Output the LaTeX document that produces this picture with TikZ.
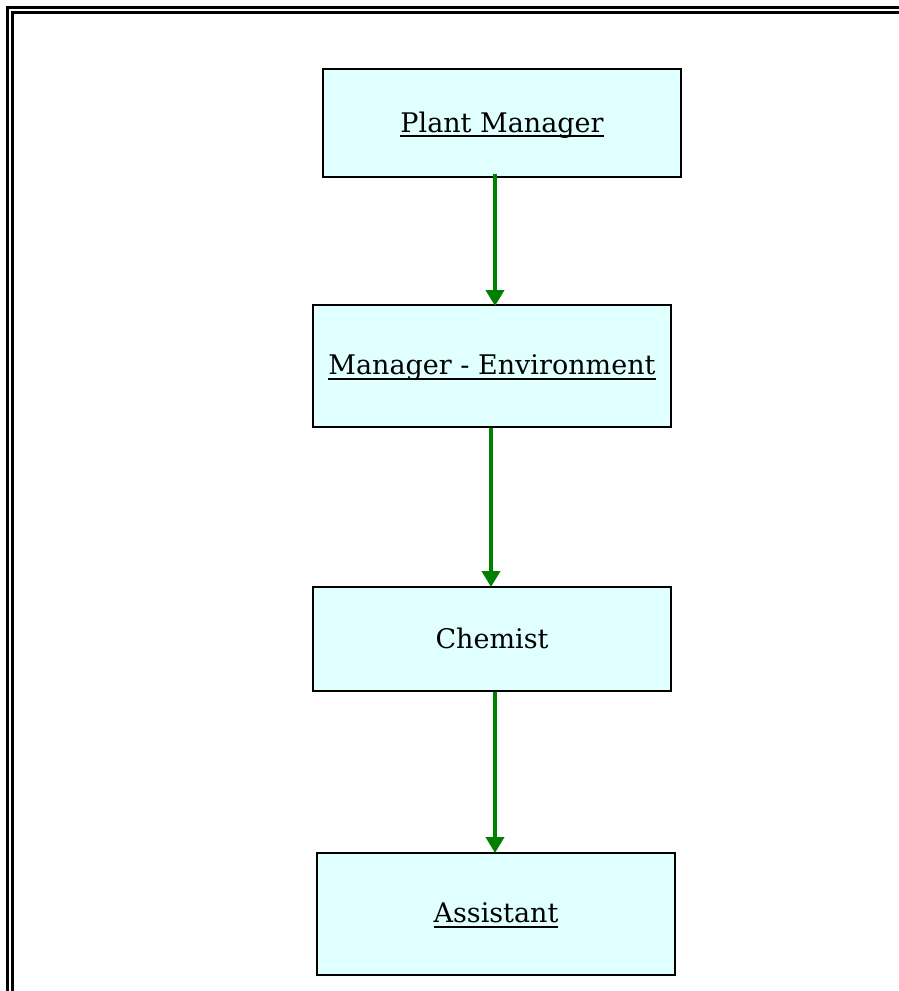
\documentclass[tikz,border=0pt]{standalone}
\usepackage[svgnames]{xcolor}
\usepackage{fontspec}
\setmainfont{DejaVu Serif}
\usepackage{tikz}
\usetikzlibrary{arrows.meta,positioning}

\newcommand{\ulbox}[1]{\setbox0\hbox{#1}\rlap{\rule[-5pt]{\wd0}{1.8pt}}\box0}

\begin{document}
\begin{tikzpicture}[
  x=1pt,y=-1pt,
  on grid,
  >={Triangle[width=18pt,length=16pt]},
  node distance=250pt,
  post/.style={rectangle,draw=Black,line width=2pt,fill=LightCyan,
    minimum width=358pt,font=\fontsize{27}{32}\selectfont,text depth=2pt},
  flow/.style={->,draw=Green,line width=4.2pt},
  frame/.style={draw=Black,line width=3pt}
  ]

  \useasboundingbox (0,0) rectangle (899,991);
  \clip (0,0) rectangle (899,991);

  % double border, open at right and bottom
  \draw[frame] (7.5,1010) -- (7.5,7.5) -- (920,7.5);
  \draw[frame] (12.5,1010) -- (12.5,12.5) -- (920,12.5);

  \node[post,minimum height=108pt] (pm)   at (502,123)          {\ulbox{Plant Manager}};
  \node[post,minimum height=122pt] (env)  [below=243pt of pm,xshift=-10pt]  {\ulbox{Manager - Environment}};
  \node[post,minimum height=104pt] (chem) [below=273pt of env]  {Chemist};
  \node[post,minimum height=122pt] (asst) [below=275pt of chem,xshift=4pt] {\ulbox{Assistant}};

  \draw[flow] ([xshift=-7pt,yshift=4pt]pm.south) -- ([xshift=3pt,yshift=-2pt]env.north);
  \draw[flow] ([xshift=-1pt]env.south) -- ([xshift=-1pt,yshift=-1pt]chem.north);
  \draw[flow] ([xshift=3pt]chem.south) -- ([xshift=-1pt,yshift=-1pt]asst.north);
\end{tikzpicture}
\end{document}
